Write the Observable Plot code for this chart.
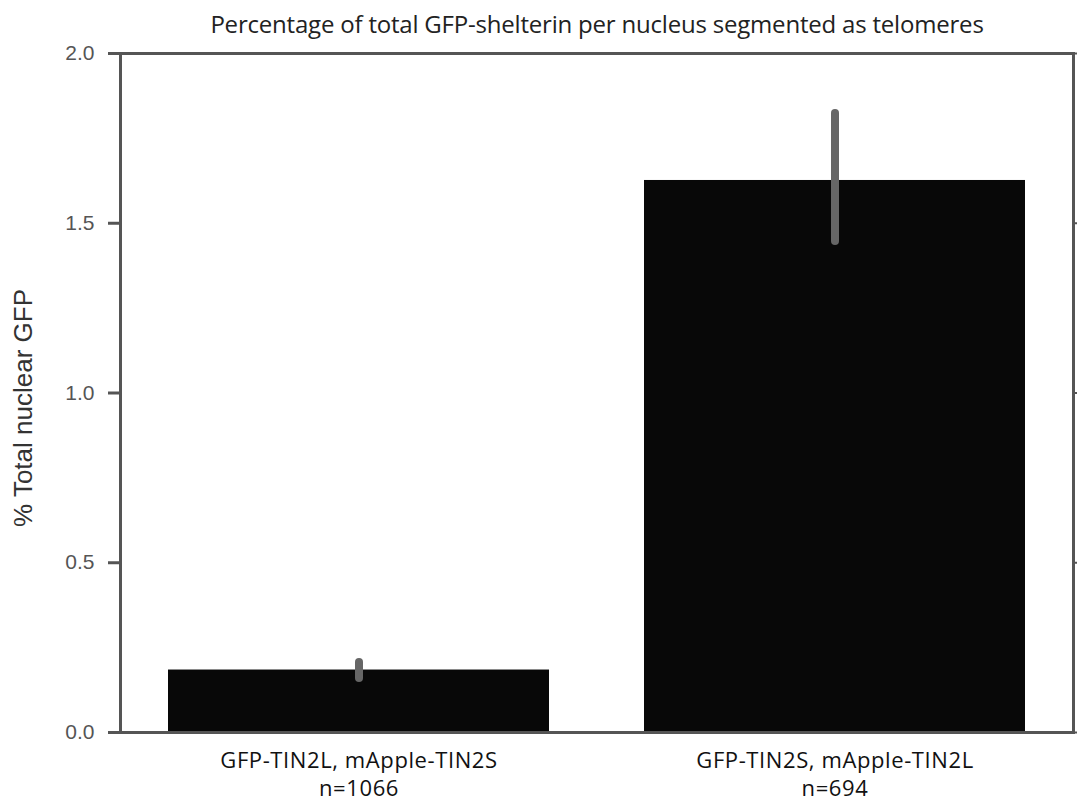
<!DOCTYPE html>
<html>
<head>
<meta charset="utf-8">
<script src="https://cdn.jsdelivr.net/npm/d3@7"></script>
<script src="https://cdn.jsdelivr.net/npm/@observablehq/plot@0.6"></script>
<style>
  body { margin: 0; background: #fff; }
  #wrap { position: relative; width: 1078px; height: 801px; }
  #title { position: absolute; left: 597px; top: 7px; transform: translateX(-50%); white-space: nowrap; z-index: 2;
    font-family: "Open Sans", sans-serif; font-size: 24px; color: #222; letter-spacing: -0.2px; }
  g[aria-label="x-axis tick label"] text { letter-spacing: 0.6px; }
</style>
</head>
<body>
<div id="wrap">
<div id="title">Percentage of total GFP-shelterin per nucleus segmented as telomeres</div>
<div id="chart"></div>
</div>
<script>
const categories = ["GFP-TIN2L, mApple-TIN2S\nn=1066", "GFP-TIN2S, mApple-TIN2L\nn=694"];
const means = [0.184, 1.626];
const ciLow = [0.159, 1.446];
const ciHigh = [0.206, 1.823];
const yTicks = [0, 0.5, 1.0, 1.5, 2.0];

const data = categories.map((c, i) => ({cat: c, mean: means[i], lo: ciLow[i], hi: ciHigh[i]}));

const chart = Plot.plot({
  width: 1078,
  height: 801,
  marginTop: 53,
  marginBottom: 69,
  marginLeft: 120,
  marginRight: 5,
  x: {domain: categories, paddingInner: 0.2, paddingOuter: 0.1, label: null},
  y: {domain: [0, 2], label: null},
  marks: [
    Plot.barY(data, {x: "cat", y: "mean", fill: "#080808"}),
    Plot.ruleX(data, {x: "cat", y1: "lo", y2: "hi", stroke: "#666", strokeWidth: 8, strokeLinecap: "round"}),
    Plot.frame({stroke: "#555", strokeWidth: 3}),
    Plot.axisY({ticks: yTicks, tickSize: 12, tickPadding: 14, tickFormat: d3.format(".1f"),
      stroke: "#555", strokeWidth: 3, fill: "#555", fontSize: 21, fontFamily: "Liberation Sans, Arial, sans-serif", label: null}),
    Plot.axisY({ticks: yTicks, anchor: "right", tickSize: 3, tickFormat: () => "", stroke: "#555", strokeWidth: 2, label: null}),
    Plot.axisX({tickSize: 0, tickPadding: 15, lineHeight: 1.3, fill: "#111", fontSize: 22,
      fontFamily: "Open Sans, sans-serif", label: null}),
    Plot.text(["% Total nuclear GFP"], {frameAnchor: "left", textAnchor: "middle", dx: -97, dy: 15, rotate: -90, fontSize: 26,
      fill: "#333", fontFamily: "Liberation Sans, Arial, sans-serif"})
  ]
});
document.getElementById("chart").appendChild(chart);
</script>
</body>
</html>
